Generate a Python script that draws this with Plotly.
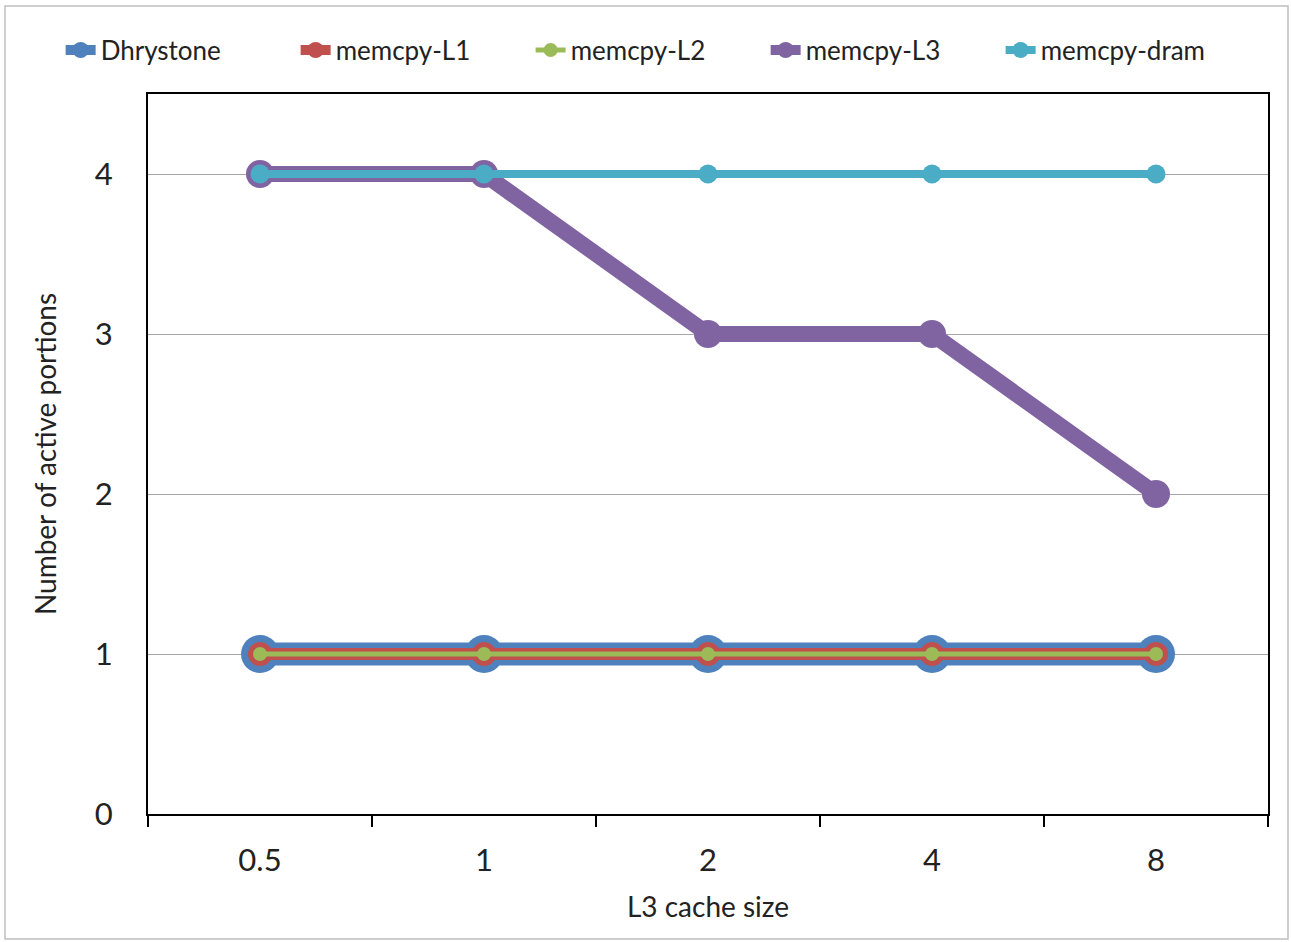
import plotly.graph_objects as go

categories = ["0.5", "1", "2", "4", "8"]
dhrystone = [1, 1, 1, 1, 1]
memcpy_l1 = [1, 1, 1, 1, 1]
memcpy_l2 = [1, 1, 1, 1, 1]
memcpy_l3 = [4, 4, 3, 3, 2]
memcpy_dram = [4, 4, 4, 4, 4]
y_ticks = [0, 1, 2, 3, 4]

series = [
    ("Dhrystone", dhrystone, "#4F81BD", 23, 38),
    ("memcpy-L1", memcpy_l1, "#C0504D", 12, 24),
    ("memcpy-L2", memcpy_l2, "#9BBB59", 5, 14),
    ("memcpy-L3", memcpy_l3, "#8064A2", 16, 28),
    ("memcpy-dram", memcpy_dram, "#4BACC6", 8, 19),
]

fig = go.Figure()
for name, vals, color, lw, ms in series:
    fig.add_trace(go.Scatter(
        x=categories, y=vals, name=name, mode="lines+markers",
        line=dict(color=color, width=lw),
        marker=dict(color=color, size=ms, line=dict(width=0)),
    ))

font = "Lato, 'Open Sans', sans-serif"
tc = "#222222"
fig.update_layout(
    width=1291, height=942,
    margin=dict(l=148, r=23, t=94, b=128, autoexpand=False),
    paper_bgcolor="white", plot_bgcolor="white",
    font=dict(family=font, color=tc),
    showlegend=True,
    legend=dict(orientation="h", x=-0.078, y=1.061, xanchor="left", yanchor="middle",
                font=dict(size=26, color=tc), entrywidth=190, entrywidthmode="pixels",
                itemsizing="trace"),
    xaxis=dict(type="category", range=[-0.5, 4.5], showgrid=False,
               showline=True, linecolor="black", linewidth=2, mirror=True,
               ticks="outside", ticklen=11, tickwidth=2, tickcolor="black",
               tickson="boundaries", ticklabelstandoff=18,
               tickfont=dict(size=31, color=tc),
               title=dict(text="L3 cache size", font=dict(size=28, color=tc), standoff=20)),
    yaxis=dict(range=[0, 4.5], tickvals=y_ticks, showgrid=True, gridcolor="#A6A6A6", gridwidth=1,
               showline=True, linecolor="black", linewidth=2, mirror=True,
               ticks="", zeroline=False,
               tickfont=dict(size=31, color=tc), ticklabelstandoff=27,
               title=dict(text="Number of active portions", font=dict(size=28, color=tc), standoff=30)),
)
fig.add_shape(type="rect", xref="paper", yref="paper",
              x0=(5 - 148) / 1120, x1=(1288 - 148) / 1120,
              y0=(814 - 939) / 720, y1=(814 - 6) / 720,
              line=dict(color="#BFBFBF", width=1.5), layer="below")
fig.write_html("out.html")
